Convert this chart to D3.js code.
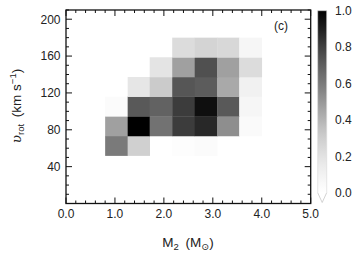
<!DOCTYPE html>
<html lang="en">
<head>
<meta charset="utf-8">
<title>M2 vs vrot density</title>
<script src="https://d3js.org/d3.v7.min.js"></script>
<style>
  html, body { margin: 0; padding: 0; background: #fff; }
  svg { display: block; }
  text { font-family: "Liberation Sans", Arial, sans-serif; fill: #222; }
</style>
</head>
<body>
<svg id="chart" width="357" height="257"></svg>
<script>
// bin edges of the 2D histogram
const massEdges = [0.80, 1.26, 1.71, 2.17, 2.63, 3.09, 3.54, 4.00];
const vrotEdges = [52, 73.3, 94.7, 116, 137.3, 158.7, 180];

// normalised density, one row per vrot bin (bottom to top), one value per mass bin
const density = [
  [0.60, 0.29, 0.00, 0.02, 0.03, 0.00, 0.00],
  [0.47, 1.00, 0.63, 0.81, 0.87, 0.53, 0.04],
  [0.03, 0.72, 0.69, 0.81, 0.95, 0.72, 0.07],
  [0.00, 0.18, 0.31, 0.73, 0.71, 0.44, 0.11],
  [0.00, 0.00, 0.19, 0.47, 0.75, 0.47, 0.23],
  [0.00, 0.00, 0.00, 0.23, 0.27, 0.25, 0.07]
];

const xTicks = [0, 1, 2, 3, 4, 5];
const yTicks = [40, 80, 120, 160, 200];
const cbTicks = [0, 0.2, 0.4, 0.6, 0.8, 1.0];

const m = { left: 66, right: 310.7, top: 10, bottom: 203.5 };
const svg = d3.select("#chart");

const x = d3.scaleLinear().domain([0, 5]).range([m.left, m.right]);
const y = d3.scaleLinear().domain([0, 210]).range([m.bottom, m.top]);
const color = d3.scaleSequential(d3.interpolateGreys).domain([0, 1]);

// cells
const cells = [];
density.forEach((row, j) => row.forEach((v, i) => {
  if (v > 0) cells.push({ i, j, v });
}));
svg.append("g").selectAll("rect").data(cells).join("rect")
  .attr("x", d => x(massEdges[d.i]))
  .attr("y", d => y(vrotEdges[d.j + 1]))
  .attr("width", d => x(massEdges[d.i + 1]) - x(massEdges[d.i]) + 0.3)
  .attr("height", d => y(vrotEdges[d.j]) - y(vrotEdges[d.j + 1]) + 0.3)
  .attr("fill", d => color(d.v));

// axes: ticks inward on all four sides
const axisG = svg.append("g").attr("stroke", "#111").attr("fill", "none");
const majorLen = 6, minorLen = 3;
const xMinor = d3.range(0, 5.0001, 0.2);
const yMinor = d3.range(0, 210.0001, 10);

xMinor.forEach(v => {
  const major = Math.abs(v - Math.round(v)) < 1e-6;
  const len = major ? majorLen : minorLen;
  axisG.append("line").attr("x1", x(v)).attr("x2", x(v))
    .attr("y1", m.bottom).attr("y2", m.bottom - len).attr("stroke-width", 1);
  axisG.append("line").attr("x1", x(v)).attr("x2", x(v))
    .attr("y1", m.top).attr("y2", m.top + len).attr("stroke-width", 1);
});
yMinor.forEach(v => {
  const major = v % 40 === 0 && v > 0;
  const len = major ? majorLen : minorLen;
  axisG.append("line").attr("y1", y(v)).attr("y2", y(v))
    .attr("x1", m.left).attr("x2", m.left + len).attr("stroke-width", 1);
  axisG.append("line").attr("y1", y(v)).attr("y2", y(v))
    .attr("x1", m.right).attr("x2", m.right - len).attr("stroke-width", 1);
});
axisG.append("rect")
  .attr("x", m.left).attr("y", m.top)
  .attr("width", m.right - m.left).attr("height", m.bottom - m.top)
  .attr("stroke-width", 1.3);

svg.append("g").selectAll("text").data(xTicks).join("text")
  .attr("x", d => x(d)).attr("y", 217.5)
  .attr("text-anchor", "middle").attr("font-size", 12)
  .text(d => d.toFixed(1));

svg.append("g").selectAll("text").data(yTicks).join("text")
  .attr("x", 60.5).attr("y", d => y(d) + 4.3)
  .attr("text-anchor", "end").attr("font-size", 12)
  .text(d => d);

// panel tag
svg.append("text").attr("x", 274).attr("y", 30).attr("font-size", 12).text("(c)");

// axis titles
const xt = svg.append("text").attr("x", 188).attr("y", 247)
  .attr("text-anchor", "middle").attr("font-size", 13.5);
xt.append("tspan").text("M");
xt.append("tspan").attr("font-size", 9.5).attr("dy", 3).text("2");
xt.append("tspan").attr("dy", -3).text("\u2002(M");
xt.append("tspan").attr("font-size", 9.5).attr("dy", 3)
  .style("font-family", "DejaVu Sans").text("\u2299");
xt.append("tspan").attr("dy", -3).text(")");

const yt = svg.append("text")
  .attr("transform", "translate(21,106) rotate(-90)")
  .attr("text-anchor", "middle").attr("font-size", 13.5);
yt.append("tspan").attr("font-style", "italic").style("font-family", "DejaVu Serif").text("\u03c5");
yt.append("tspan").attr("font-size", 9.5).attr("dy", 3).text("rot");
yt.append("tspan").attr("dy", -3).text("\u2002(km s");
yt.append("tspan").attr("font-size", 9.5).attr("dy", -5).text("\u22121");
yt.append("tspan").attr("dy", 5).text(")");

// colour bar with "min" extension triangle
const cb = { x: 317.7, w: 9, top: 10.7, bottom: 192.7, tip: 202.5 };
const cbY = d3.scaleLinear().domain([0, 1]).range([cb.bottom, cb.top]);
const grad = svg.append("defs").append("linearGradient")
  .attr("id", "cbgrad").attr("x1", 0).attr("y1", 1).attr("x2", 0).attr("y2", 0);
d3.range(0, 1.0001, 0.05).forEach(t => {
  grad.append("stop").attr("offset", t).attr("stop-color", color(t));
});
svg.append("rect")
  .attr("x", cb.x).attr("y", cbY(1))
  .attr("width", cb.w).attr("height", cbY(0) - cbY(1))
  .attr("fill", "url(#cbgrad)");
svg.append("path")
  .attr("d", `M${cb.x},${cbY(0)}L${cb.x + cb.w / 2},${cb.tip}L${cb.x + cb.w},${cbY(0)}`)
  .attr("fill", "#fff").attr("stroke", "#c8c8c8").attr("stroke-width", 0.8);
svg.append("path")
  .attr("d", `M${cb.x},${cbY(0)}V${cbY(1)}H${cb.x + cb.w}V${cbY(0)}`)
  .attr("fill", "none").attr("stroke", "#d8d8d8").attr("stroke-width", 0.6);

svg.append("g").selectAll("text").data(cbTicks).join("text")
  .attr("x", 335).attr("y", d => cbY(d) + 4.3)
  .attr("font-size", 12)
  .text(d => d.toFixed(1));
</script>
</body>
</html>
